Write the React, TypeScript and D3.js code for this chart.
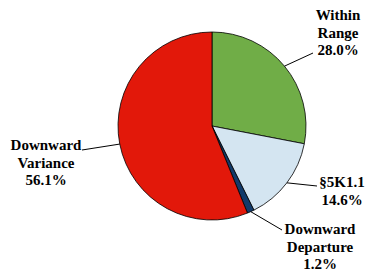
import React from "react"
import * as d3 from "d3"

const categories = ["Within Range", "§5K1.1", "Downward Departure", "Downward Variance"]
const values = [28.0, 14.6, 1.2, 56.1]
const colors = ["#70AD47", "#D4E5F1", "#123A6A", "#E2180A"]
// label lines per slice
const labelLines = [["Within", "Range", "28.0%"], ["§5K1.1", "14.6%"], ["Downward", "Departure", "1.2%"], ["Downward", "Variance", "56.1%"]]

const W = 367
const H = 275
const cx = 212
const cy = 126
const r = 94

// where each label block sits (center x, first baseline) and where its leader ends
const labelPos = [
  { x: 338, y: 20, lx: 313, ly: 53 },
  { x: 342, y: 187, lx: 317, ly: 186 },
  { x: 320, y: 234, lx: 282, ly: 230 },
  { x: 46, y: 150, lx: 82, ly: 150 },
]

const App = () => {
  const data = categories.map((c, i) => ({ label: c, value: values[i], i }))
  const pie = d3.pie<any>().value(d => d.value).sort(null)
  const arcs = pie(data)
  const arc = d3.arc<any>().innerRadius(0).outerRadius(r)

  return (
    <svg width={W} height={H} style={{ position: "absolute", left: 0, top: 0 }}>
      <g transform={`translate(${cx},${cy})`}>
        {arcs.map((a, i) => (
          <path key={i} d={arc(a) as string} fill={colors[i]} stroke="#000" strokeWidth={0.8} />
        ))}
      </g>
      {arcs.map((a, i) => {
        const mid = (a.startAngle + a.endAngle) / 2
        const sx = cx + r * Math.sin(mid)
        const sy = cy - r * Math.cos(mid)
        const p = labelPos[i]
        return <line key={"l" + i} x1={sx} y1={sy} x2={p.lx} y2={p.ly} stroke="#000" strokeWidth={1} />
      })}
      {labelLines.map((lines, i) => (
        <text key={"t" + i} textAnchor="middle" style={{ fontFamily: "Liberation Serif, serif", fontWeight: 700, fontSize: "15px" }}
          fill="#000">
          {lines.map((s, j) => (
            <tspan key={j} x={labelPos[i].x} y={labelPos[i].y + j * 17.6}>{s}</tspan>
          ))}
        </text>
      ))}
    </svg>
  )
}

export default App
